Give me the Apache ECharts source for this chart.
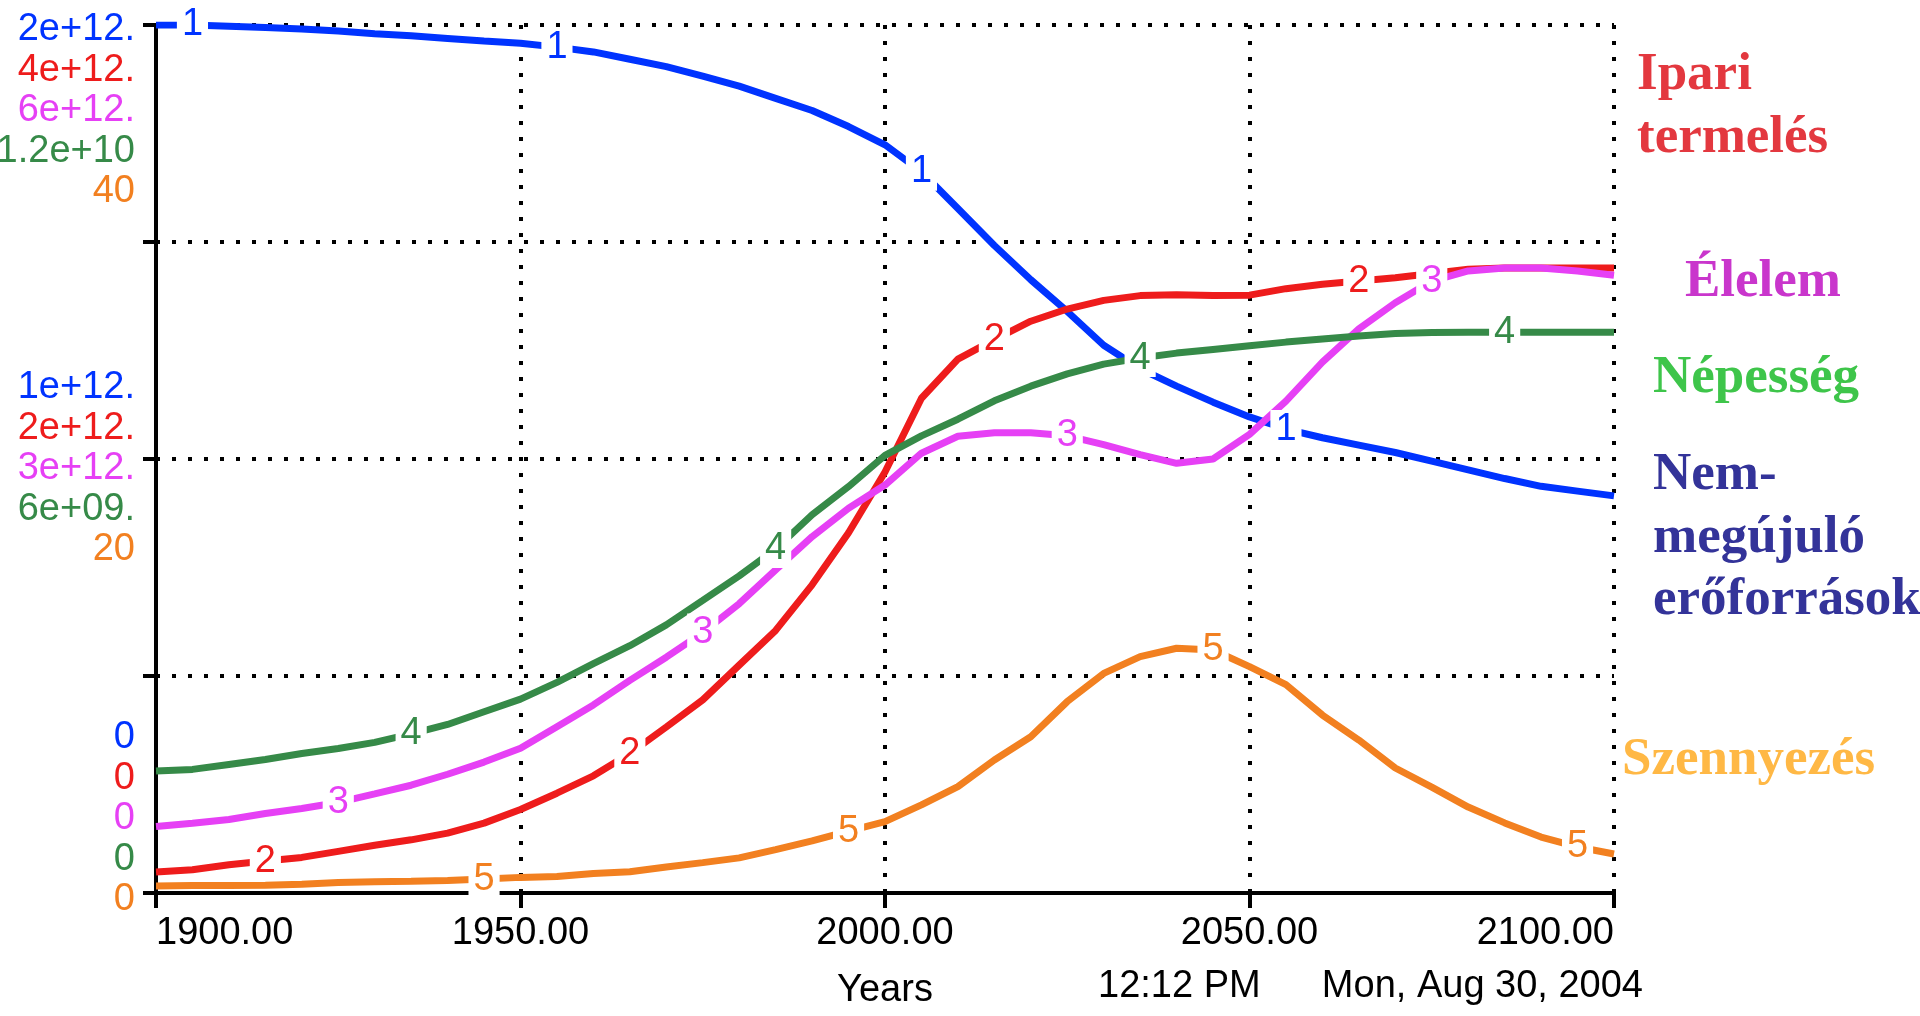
<!DOCTYPE html>
<html>
<head>
<meta charset="utf-8">
<title>World model</title>
<script src="https://cdn.jsdelivr.net/npm/echarts@6/dist/echarts.min.js"></script>
<style>
  html, body { margin: 0; padding: 0; background: #fff; }
  #chart { width: 1920px; height: 1016px; }
</style>
</head>
<body>
<div id="chart"></div>
<script>
// years on the x axis, one point every 5 years
var years = [1900, 1905, 1910, 1915, 1920, 1925, 1930, 1935, 1940, 1945,
  1950, 1955, 1960, 1965, 1970, 1975, 1980, 1985, 1990, 1995,
  2000, 2005, 2010, 2015, 2020, 2025, 2030, 2035, 2040, 2045,
  2050, 2055, 2060, 2065, 2070, 2075, 2080, 2085, 2090, 2095, 2100]

// 1: non-renewable resources (0 .. 2e12)
var resources = [2.000e12, 2.000e12, 1.997e12, 1.994e12, 1.991e12, 1.986e12, 1.980e12, 1.975e12, 1.969e12, 1.963e12,
  1.958e12, 1.949e12, 1.938e12, 1.921e12, 1.904e12, 1.882e12, 1.859e12, 1.831e12, 1.803e12, 1.766e12,
  1.724e12, 1.662e12, 1.577e12, 1.492e12, 1.413e12, 1.340e12, 1.262e12, 1.208e12, 1.168e12, 1.131e12,
  1.097e12, 1.069e12, 1.049e12, 1.032e12, 1.015e12, 0.995e12, 0.975e12, 0.955e12, 0.937e12, 0.926e12, 0.915e12]
// 2: industrial output (0 .. 4e12)
var industry = [0.097e12, 0.107e12, 0.130e12, 0.147e12, 0.164e12, 0.192e12, 0.220e12, 0.245e12, 0.276e12, 0.322e12,
  0.385e12, 0.460e12, 0.540e12, 0.643e12, 0.765e12, 0.890e12, 1.050e12, 1.210e12, 1.420e12, 1.660e12,
  1.940e12, 2.280e12, 2.460e12, 2.550e12, 2.635e12, 2.691e12, 2.731e12, 2.753e12, 2.757e12, 2.753e12,
  2.755e12, 2.785e12, 2.805e12, 2.820e12, 2.835e12, 2.855e12, 2.875e12, 2.880e12, 2.880e12, 2.880e12, 2.880e12]
// 3: food (0 .. 6e12)
var food = [0.460e12, 0.482e12, 0.508e12, 0.550e12, 0.584e12, 0.626e12, 0.685e12, 0.745e12, 0.821e12, 0.905e12,
  1.000e12, 1.150e12, 1.300e12, 1.470e12, 1.630e12, 1.800e12, 2.000e12, 2.234e12, 2.463e12, 2.660e12,
  2.820e12, 3.040e12, 3.157e12, 3.182e12, 3.182e12, 3.160e12, 3.100e12, 3.030e12, 2.970e12, 3.000e12,
  3.170e12, 3.400e12, 3.670e12, 3.900e12, 4.080e12, 4.230e12, 4.300e12, 4.320e12, 4.320e12, 4.300e12, 4.270e12]
// 4: population (0 .. 1.2e10)
var population = [1.687e9, 1.709e9, 1.777e9, 1.845e9, 1.929e9, 1.997e9, 2.082e9, 2.200e9, 2.330e9, 2.505e9,
  2.680e9, 2.911e9, 3.170e9, 3.419e9, 3.707e9, 4.045e9, 4.384e9, 4.756e9, 5.230e9, 5.619e9,
  6.050e9, 6.320e9, 6.550e9, 6.804e9, 7.007e9, 7.176e9, 7.312e9, 7.396e9, 7.464e9, 7.515e9,
  7.566e9, 7.616e9, 7.660e9, 7.700e9, 7.735e9, 7.750e9, 7.752e9, 7.752e9, 7.752e9, 7.752e9, 7.752e9]
// 5: pollution (0 .. 40)
var pollution = [0.32, 0.34, 0.34, 0.36, 0.40, 0.48, 0.52, 0.54, 0.58, 0.64,
  0.72, 0.76, 0.90, 0.98, 1.20, 1.40, 1.62, 2.00, 2.40, 2.85,
  3.29, 4.06, 4.90, 6.13, 7.20, 8.82, 10.12, 10.89, 11.28, 11.20,
  10.43, 9.60, 8.20, 7.05, 5.76, 4.88, 3.96, 3.23, 2.58, 2.12, 1.80]

// where the curve numbers sit
var resourceMarks = [1905, 1955, 2005, 2055]
var industryMarks = [1915, 1965, 2015, 2065]
var foodMarks = [1925, 1975, 2025, 2075]
var populationMarks = [1935, 1985, 2035, 2085]
var pollutionMarks = [1945, 1995, 2045, 2095]

// y axis maxima and tick labels (bottom, middle, top)
var axisMax = [2e12, 4e12, 6e12, 1.2e10, 40]
var resourceTicks = ['0', '1e+12.', '2e+12.']
var industryTicks = ['0', '2e+12.', '4e+12.']
var foodTicks = ['0', '3e+12.', '6e+12.']
var populationTicks = ['0', '6e+09.', '1.2e+10']
var pollutionTicks = ['0', '20', '40']

var colors = ['#0033ff', '#ee1c1c', '#e640f5', '#368a48', '#f28020']
var pixelFont = '"Liberation Sans", Arial, sans-serif'
var serif = '"Liberation Serif", "DejaVu Serif", serif'

var chart = echarts.init(document.getElementById('chart'))

function makeSeries(values, marks, idx) {
  var data = years.map(function (y, i) {
    if (marks.indexOf(y) < 0) {
      return [y, values[i]]
    }
    return {
      value: [y, values[i]],
      label: {
        show: true,
        position: 'inside',
        formatter: String(idx + 1),
        color: colors[idx],
        fontFamily: pixelFont,
        fontSize: 38,
        backgroundColor: '#fff',
        padding: [0, 5]
      }
    }
  })
  return {
    type: 'line',
    yAxisIndex: idx,
    data: data,
    symbol: 'circle',
    symbolSize: 0,
    showSymbol: true,
    lineStyle: { color: colors[idx], width: 7 },
    itemStyle: { color: colors[idx] },
    label: { show: false },
    z: 3
  }
}

function pad(d) {
  return d >= 0 ? [2 * d, 0, 0, 0] : [0, 0, -2 * d, 0]
}

var tickText = [resourceTicks, industryTicks, foodTicks, populationTicks, pollutionTicks]
var dotted = { color: '#000', width: 4, type: [4, 12] }

var yAxes = axisMax.map(function (max, i) {
  var rich = {}
  // labels of the five axes are stacked: downwards at the top, centred in the middle, upwards at 0
  var offsets = [7 + 40.5 * (i - 4), 10 + 40.5 * (i - 2), 5 + 40.5 * i]
  offsets.forEach(function (d, k) {
    rich['s' + k] = {
      color: colors[i],
      fontFamily: pixelFont,
      fontSize: 38,
      padding: pad(d)
    }
  })
  return {
    type: 'value',
    position: 'left',
    min: 0,
    max: max,
    interval: max / 4,
    axisLine: { show: i === 0, lineStyle: { color: '#000', width: 4 } },
    axisTick: { show: i === 0, length: 13, lineStyle: { color: '#000', width: 4 } },
    splitLine: { show: i === 0, lineStyle: dotted },
    axisLabel: {
      margin: 21,
      color: colors[i],
      fontFamily: pixelFont,
      fontSize: 38,
      formatter: function (v) {
        var k = Math.round(v / max * 4)
        if (k % 2) return ''
        return '{s' + (k / 2) + '|' + tickText[i][k / 2] + '}'
      },
      rich: rich
    }
  }
})

var sideText = [
  { text: 'Ipari', x: 1637, y: 90, color: '#e3383f' },
  { text: 'termelés', x: 1637, y: 153, color: '#e3383f' },
  { text: 'Élelem', x: 1685, y: 297, color: '#c936cc' },
  { text: 'Népesség', x: 1653, y: 393, color: '#3ec54a' },
  { text: 'Nem-', x: 1653, y: 490, color: '#333399' },
  { text: 'megújuló', x: 1653, y: 553, color: '#333399' },
  { text: 'erőforrások', x: 1653, y: 615, color: '#333399' },
  { text: 'Szennyezés', x: 1622, y: 775, color: '#ffb845' }
]

var graphics = sideText.map(function (t) {
  return {
    type: 'text',
    x: t.x,
    y: t.y + 12,
    style: {
      text: t.text,
      fill: t.color,
      font: 'bold 53px ' + serif,
      verticalAlign: 'bottom'
    }
  }
})
graphics.push({
  type: 'text',
  x: 1098,
  y: 987,
  style: { text: '12:12 PM', fill: '#000', font: '38px ' + pixelFont, verticalAlign: 'middle' }
})
graphics.push({
  type: 'text',
  x: 1643,
  y: 987,
  style: { text: 'Mon, Aug 30, 2004', fill: '#000', font: '38px ' + pixelFont, verticalAlign: 'middle', align: 'right' }
})

chart.setOption({
  animation: false,
  backgroundColor: '#fff',
  grid: { left: 156, right: 306, top: 25, bottom: 123, containLabel: false, outerBoundsMode: 'none' },
  xAxis: {
    type: 'value',
    min: 1900,
    max: 2100,
    interval: 50,
    axisLine: { lineStyle: { color: '#000', width: 4 } },
    axisTick: { length: 15, lineStyle: { color: '#000', width: 4 } },
    splitLine: { show: true, lineStyle: dotted },
    axisLabel: {
      margin: 22,
      color: '#000',
      fontFamily: pixelFont,
      fontSize: 38,
      alignMinLabel: 'left',
      alignMaxLabel: 'right',
      formatter: function (v) { return v.toFixed(2) }
    },
    name: 'Years',
    nameLocation: 'middle',
    nameGap: 79,
    nameTextStyle: { color: '#000', fontFamily: pixelFont, fontSize: 38 }
  },
  yAxis: yAxes,
  series: [
    makeSeries(resources, resourceMarks, 0),
    makeSeries(industry, industryMarks, 1),
    makeSeries(food, foodMarks, 2),
    makeSeries(population, populationMarks, 3),
    makeSeries(pollution, pollutionMarks, 4)
  ],
  graphic: graphics
})
</script>
</body>
</html>
